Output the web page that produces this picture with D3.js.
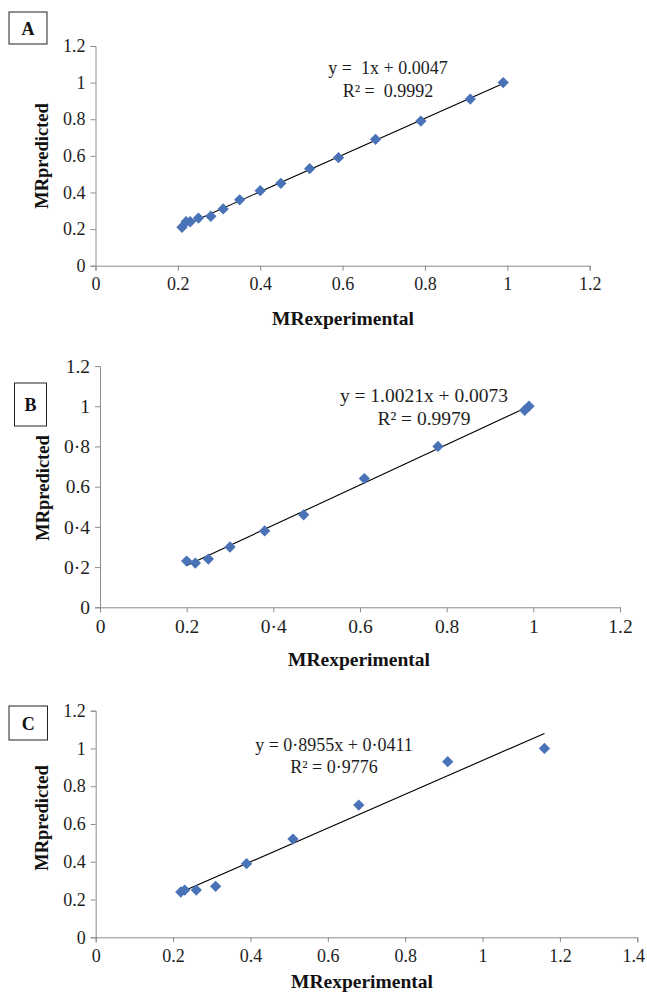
<!DOCTYPE html>
<html>
<head>
<meta charset="utf-8">
<title>MR predicted vs experimental</title>
<script src="https://d3js.org/d3.v7.min.js"></script>
<style>
  body { margin: 0; background: #fff; }
  svg, svg text { font-family: "Liberation Serif", "Times New Roman", serif; }
  .tick text { fill: #1e1e1e; }
  .domain, .tick line { stroke: #8c8c8c; }
  .eq { white-space: pre; fill: #1e1e1e; }
</style>
</head>
<body>
<svg id="chart" width="647" height="994"></svg>
<script>
// panel A
var aX = [0.21, 0.22, 0.23, 0.25, 0.28, 0.31, 0.35, 0.40, 0.45, 0.52, 0.59, 0.68, 0.79, 0.91, 0.99];
var aY = [0.21, 0.24, 0.24, 0.26, 0.27, 0.31, 0.36, 0.41, 0.45, 0.53, 0.59, 0.69, 0.79, 0.91, 1.00];
var aFit = [1, 0.0047];
var aEq = ["y =  1x + 0.0047", "R\u00b2 =  0.9992"];
var aXTicks = ["0", "0.2", "0.4", "0.6", "0.8", "1", "1.2"];
var aYTicks = ["0", "0.2", "0.4", "0.6", "0.8", "1", "1.2"];

// panel B
var bX = [0.20, 0.22, 0.25, 0.30, 0.38, 0.47, 0.61, 0.78, 0.98, 0.99];
var bY = [0.23, 0.22, 0.24, 0.30, 0.38, 0.46, 0.64, 0.80, 0.98, 1.00];
var bFit = [1.0021, 0.0073];
var bEq = ["y = 1.0021x + 0.0073", "R\u00b2 = 0.9979"];
var bXTicks = ["0", "0.2", "0\u00b74", "0.6", "0.8", "1", "1.2"];
var bYTicks = ["0", "0\u00b72", "0\u00b74", "0.6", "0\u00b78", "1", "1.2"];

// panel C
var cX = [0.22, 0.23, 0.26, 0.31, 0.39, 0.51, 0.68, 0.91, 1.16];
var cY = [0.24, 0.25, 0.25, 0.27, 0.39, 0.52, 0.70, 0.93, 1.00];
var cFit = [0.8955, 0.0411];
var cEq = ["y = 0\u00b78955x + 0\u00b70411", "R\u00b2 = 0\u00b79776"];
var cXTicks = ["0", "0.2", "0.4", "0.6", "0.8", "1", "1.2", "1.4"];
var cYTicks = ["0", "0.2", "0.4", "0.6", "0.8", "1", "1.2"];

var svg = d3.select("#chart");
var serif = "'Liberation Serif', 'Times New Roman', serif";

var panels = [
  {letter: "A", xs: aX, ys: aY, fit: aFit, eq: aEq, xt: aXTicks, yt: aYTicks, xMax: 1.2,
   xr: [95.5, 589.7], yr: [265.7, 46], box: [9, 12, 38, 32], eqPos: [388, 74, 97], font: 18,
   yTitle: [48, 156], xTitle: [343, 325]},
  {letter: "B", xs: bX, ys: bY, fit: bFit, eq: bEq, xt: bXTicks, yt: bYTicks, xMax: 1.2,
   xr: [100, 620], yr: [607.3, 366], box: [14.5, 383, 32, 43], eqPos: [424, 402, 425], font: 19.5,
   yTitle: [49, 488], xTitle: [359, 666]},
  {letter: "C", xs: cX, ys: cY, fit: cFit, eq: cEq, xt: cXTicks, yt: cYTicks, xMax: 1.4,
   xr: [95.7, 637.3], yr: [937.3, 710.7], box: [9, 706, 38.5, 34], eqPos: [334, 751, 773], font: 18,
   yTitle: [48, 818], xTitle: [362, 988]}
];

panels.forEach(function(p) {
  var x = d3.scaleLinear().domain([0, p.xMax]).range(p.xr);
  var y = d3.scaleLinear().domain([0, 1.2]).range(p.yr);
  var xv = d3.range(p.xt.length).map(function(i) { return i * 0.2; });
  var yv = d3.range(p.yt.length).map(function(i) { return i * 0.2; });

  var g = svg.append("g");

  // axes
  var gx = g.append("g")
      .attr("transform", "translate(0," + p.yr[0] + ")")
      .call(d3.axisBottom(x).tickValues(xv).tickSizeOuter(0).tickSize(5).tickPadding(7)
        .tickFormat(function(d, i) { return p.xt[i]; }))
      .attr("font-family", serif)
      .attr("font-size", p.font);
  // last label of a wide axis sits against the page edge
  if (p.xMax > 1.2) gx.selectAll(".tick text").filter(function(d, i) { return i === p.xt.length - 1; }).attr("dx", -4);

  g.append("g")
      .attr("transform", "translate(" + p.xr[0] + ",0)")
      .call(d3.axisLeft(y).tickValues(yv).tickSizeOuter(0).tickSize(5).tickPadding(5)
        .tickFormat(function(d, i) { return p.yt[i]; }))
      .attr("font-family", serif)
      .attr("font-size", p.font);

  // trend line from the fitted equation
  var x0 = d3.min(p.xs), x1 = d3.max(p.xs);
  g.append("line")
      .attr("x1", x(x0)).attr("y1", y(p.fit[0] * x0 + p.fit[1]))
      .attr("x2", x(x1)).attr("y2", y(p.fit[0] * x1 + p.fit[1]))
      .attr("stroke", "#000")
      .attr("stroke-width", 1.1);

  // diamond markers
  g.selectAll(".pt")
    .data(p.xs.map(function(d, i) { return [d, p.ys[i]]; }))
    .join("path")
      .attr("class", "pt")
      .attr("d", d3.symbol().type(d3.symbolSquare).size(64))
      .attr("transform", function(d) { return "translate(" + x(d[0]) + "," + y(d[1]) + ") rotate(45)"; })
      .attr("fill", "#4a72b7");

  // equation
  g.selectAll(".eq")
    .data(p.eq)
    .join("text")
      .attr("class", "eq")
      .attr("x", p.eqPos[0])
      .attr("y", function(d, i) { return p.eqPos[i + 1]; })
      .attr("text-anchor", "middle")
      .attr("font-size", p.font)
      .text(function(d) { return d; });

  // panel letter box
  g.append("rect")
      .attr("x", p.box[0]).attr("y", p.box[1])
      .attr("width", p.box[2]).attr("height", p.box[3])
      .attr("fill", "none")
      .attr("stroke", "#222")
      .attr("stroke-width", 1);
  g.append("text")
      .attr("x", p.box[0] + p.box[2] / 2)
      .attr("y", p.box[1] + p.box[3] / 2 + 6.5)
      .attr("text-anchor", "middle")
      .attr("font-weight", "bold")
      .attr("font-size", 18)
      .attr("fill", "#111")
      .text(p.letter);

  // axis titles
  g.append("text")
      .attr("transform", "translate(" + p.yTitle[0] + "," + p.yTitle[1] + ") rotate(-90)")
      .attr("text-anchor", "middle")
      .attr("font-weight", "bold")
      .attr("font-size", 18.5)
      .attr("fill", "#111")
      .text("MRpredicted");
  g.append("text")
      .attr("x", p.xTitle[0])
      .attr("y", p.xTitle[1])
      .attr("text-anchor", "middle")
      .attr("font-weight", "bold")
      .attr("font-size", 19.5)
      .attr("fill", "#111")
      .text("MRexperimental");
});
</script>
</body>
</html>
